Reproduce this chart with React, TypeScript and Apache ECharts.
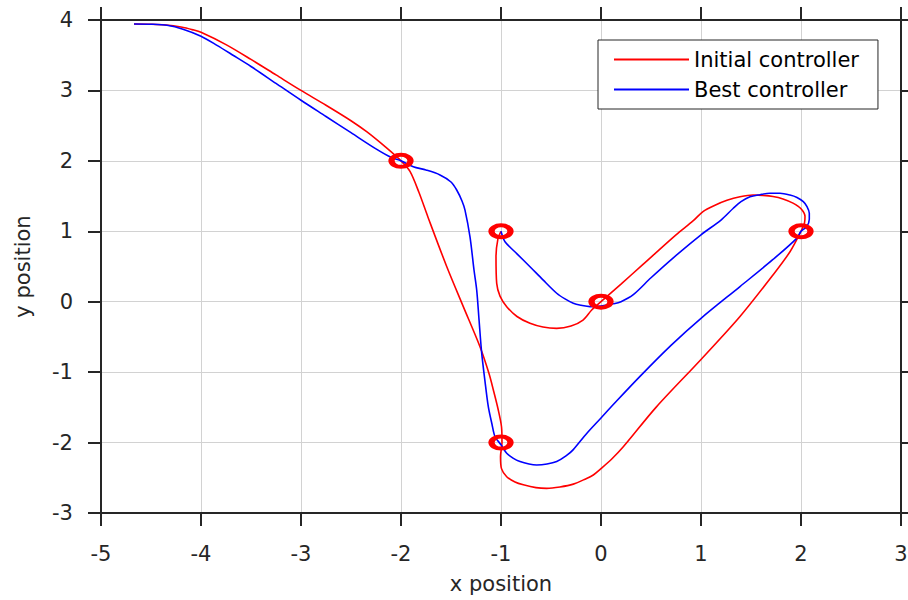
import React, { useEffect, useRef } from "react";
import * as echarts from "echarts";

const xTicks = [-5, -4, -3, -2, -1, 0, 1, 2, 3];
const yTicks = [-3, -2, -1, 0, 1, 2, 3, 4];

const seriesNames = ["Initial controller", "Best controller"];

const initialPath: number[][] = [
  [-4.67, 3.943], [-4.5, 3.94], [-4.35, 3.93], [-4.2, 3.9], [-4.08, 3.86],
  [-4.0, 3.825], [-3.75, 3.65], [-3.5, 3.44], [-3.25, 3.22], [-3.0, 3.0],
  [-2.75, 2.79], [-2.5, 2.57], [-2.34, 2.41], [-2.15, 2.19], [-2.0, 2.0],
  [-1.91, 1.85], [-1.82, 1.55], [-1.73, 1.2], [-1.543, 0.5], [-1.377, -0.07],
  [-1.21, -0.64], [-1.12, -1.02], [-1.077, -1.25], [-1.03, -1.52],
  [-0.995, -1.775], [-0.99, -2.0], [-1.005, -2.2], [-0.995, -2.37],
  [-0.943, -2.485], [-0.86, -2.56], [-0.777, -2.6], [-0.65, -2.64],
  [-0.543, -2.65], [-0.41, -2.63], [-0.277, -2.59], [-0.16, -2.52],
  [-0.077, -2.46], [0.0, -2.37], [0.11, -2.23], [0.223, -2.06],
  [0.55, -1.5], [1.0, -0.82], [1.39, -0.21], [1.72, 0.38], [1.89, 0.71],
  [2.0, 1.0], [2.035, 1.12], [2.04, 1.21], [2.0, 1.32], [1.92, 1.4],
  [1.82, 1.46], [1.72, 1.495], [1.62, 1.51], [1.52, 1.515], [1.39, 1.49],
  [1.26, 1.44], [1.14, 1.37], [1.02, 1.28], [0.923, 1.15], [0.75, 0.95],
  [0.42, 0.53], [0.2, 0.25], [0.0, 0.0], [-0.093, -0.117], [-0.18, -0.26],
  [-0.3, -0.345], [-0.443, -0.378], [-0.58, -0.36], [-0.71, -0.307],
  [-0.84, -0.21], [-0.943, -0.07], [-1.01, 0.08], [-1.043, 0.26],
  [-1.05, 0.64], [-1.03, 0.9], [-1.0, 1.0],
];

const bestPath: number[][] = [
  [-4.67, 3.943], [-4.5, 3.94], [-4.34, 3.925], [-4.18, 3.87], [-4.0, 3.77],
  [-3.84, 3.64], [-3.68, 3.5], [-3.5, 3.34], [-3.25, 3.1], [-3.0, 2.86],
  [-2.75, 2.63], [-2.5, 2.4], [-2.25, 2.17], [-2.1, 2.05], [-2.0, 2.0],
  [-1.877, 1.917], [-1.75, 1.87], [-1.61, 1.8], [-1.5, 1.7], [-1.443, 1.586],
  [-1.39, 1.43], [-1.36, 1.3], [-1.31, 0.92], [-1.27, 0.45], [-1.243, 0.166],
  [-1.22, -0.25], [-1.193, -0.73], [-1.16, -1.13], [-1.127, -1.49],
  [-1.09, -1.74], [-1.06, -1.917], [-1.0, -2.03], [-0.943, -2.152],
  [-0.88, -2.22], [-0.81, -2.27], [-0.72, -2.305], [-0.643, -2.318],
  [-0.54, -2.305], [-0.443, -2.27], [-0.35, -2.19], [-0.277, -2.1],
  [-0.143, -1.87], [0.0, -1.65], [0.123, -1.46], [0.39, -1.06],
  [0.7, -0.62], [1.0, -0.236], [1.39, 0.215], [1.72, 0.6], [1.957, 0.9],
  [2.0, 1.0], [2.057, 1.065], [2.083, 1.17], [2.083, 1.255], [2.06, 1.35],
  [2.023, 1.42], [1.96, 1.48], [1.89, 1.515], [1.79, 1.54], [1.69, 1.54],
  [1.59, 1.52], [1.49, 1.49], [1.4, 1.42], [1.323, 1.327], [1.2, 1.16],
  [1.0, 0.95], [0.72, 0.62], [0.5, 0.34], [0.323, 0.1], [0.2, 0.0],
  [0.123, -0.03], [0.0, -0.06], [-0.11, -0.07], [-0.2, -0.05],
  [-0.277, -0.022], [-0.36, 0.04], [-0.443, 0.12], [-0.58, 0.31],
  [-0.71, 0.497], [-0.84, 0.68], [-0.96, 0.852], [-1.0, 1.0],
];

const waypoints: number[][] = [
  [-2, 2], [-1, 1], [0, 0], [2, 1], [-1, -2],
];

const ellipsePath = "path://M0,1A1,1 0 1,1 2,1A1,1 0 1,1 0,1Z";

const FONT = "DejaVu Sans";
const TEXT = "#262626";

export default function App() {
  const ref = useRef<HTMLDivElement>(null);

  useEffect(() => {
    if (!ref.current) return;
    const chart = echarts.init(ref.current, null, { renderer: "svg" });
    const axisCommon = {
      type: "value",
      axisLine: { show: true, onZero: false, lineStyle: { color: TEXT, width: 2 } },
      axisTick: { show: true, inside: false, length: 13, lineStyle: { color: TEXT, width: 2 } },
    };
    chart.setOption({
      animation: false,
      backgroundColor: "#ffffff",
      grid: { left: 101, right: 7, top: 20, bottom: 87, outerBoundsMode: "none" },
      legend: {
        data: seriesNames,
        orient: "vertical",
        left: 598,
        top: 40,
        padding: [9, 19, 9, 16],
        itemGap: 9,
        itemWidth: 75,
        itemHeight: 2,
        icon: "rect",
        borderColor: TEXT,
        borderWidth: 1,
        backgroundColor: "#ffffff",
        textStyle: { fontFamily: FONT, fontSize: 21, color: "#000000", lineHeight: 20 },
      },
      xAxis: [
        {
          ...axisCommon,
          min: xTicks[0],
          max: xTicks[xTicks.length - 1],
          interval: 1,
          position: "bottom",
          name: "x position",
          nameLocation: "middle",
          nameGap: 60,
          nameTextStyle: { fontFamily: FONT, fontSize: 21, color: TEXT },
          axisLabel: { margin: 30, fontFamily: FONT, fontSize: 21, color: TEXT },
          splitLine: { show: true, lineStyle: { color: "#d2d2d2", width: 1 } },
        },
        {
          ...axisCommon,
          min: xTicks[0],
          max: xTicks[xTicks.length - 1],
          interval: 1,
          position: "top",
          axisLabel: { show: false },
          splitLine: { show: false },
        },
      ],
      yAxis: [
        {
          ...axisCommon,
          min: yTicks[0],
          max: yTicks[yTicks.length - 1],
          interval: 1,
          position: "left",
          name: "y position",
          nameLocation: "middle",
          nameGap: 68,
          nameTextStyle: { fontFamily: FONT, fontSize: 21, color: TEXT },
          axisLabel: { margin: 28, fontFamily: FONT, fontSize: 21, color: TEXT },
          splitLine: { show: true, lineStyle: { color: "#d2d2d2", width: 1 } },
        },
        {
          ...axisCommon,
          min: yTicks[0],
          max: yTicks[yTicks.length - 1],
          interval: 1,
          position: "right",
          axisLabel: { show: false },
          splitLine: { show: false },
        },
      ],
      series: [
        {
          name: seriesNames[0],
          type: "line",
          data: initialPath,
          smooth: 0.3,
          symbol: "none",
          lineStyle: { color: "#ff0000", width: 1.6 },
          itemStyle: { color: "#ff0000" },
          z: 3,
        },
        {
          name: seriesNames[1],
          type: "line",
          data: bestPath,
          smooth: 0.3,
          symbol: "none",
          lineStyle: { color: "#0000ff", width: 1.6 },
          itemStyle: { color: "#0000ff" },
          z: 4,
        },
        {
          name: "waypoints",
          type: "scatter",
          data: waypoints,
          symbol: ellipsePath,
          symbolSize: [19, 12],
          itemStyle: {
            color: "rgba(255,255,255,0)",
            borderColor: "#ff0000",
            borderWidth: 5,
            opacity: 1,
          },
          z: 5,
        },
      ],
    });
    return () => chart.dispose();
  }, []);

  return (
    <div
      ref={ref}
      style={{ position: "absolute", left: 0, top: 0, width: 908, height: 600 }}
    />
  );
}
